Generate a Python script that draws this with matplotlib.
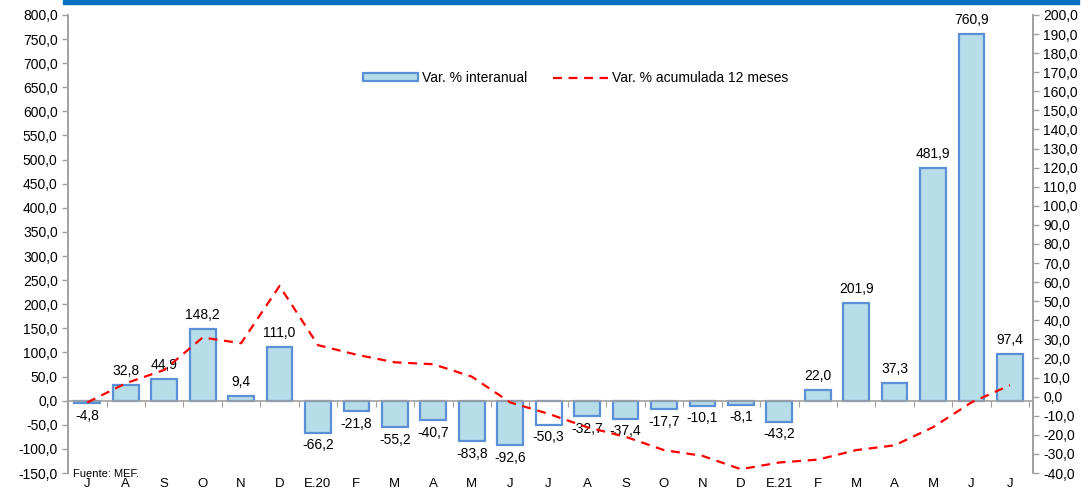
import matplotlib.pyplot as plt
import numpy as np
from matplotlib.ticker import FuncFormatter
from matplotlib.patches import Rectangle, Patch
from matplotlib.lines import Line2D
import matplotlib.transforms as mtrans

plt.rcParams['font.family'] = ['Liberation Sans', 'DejaVu Sans']

months = ["J", "A", "S", "O", "N", "D", "E.20", "F", "M", "A", "M", "J",
          "J", "A", "S", "O", "N", "D", "E.21", "F", "M", "A", "M", "J", "J"]
interanual = [-4.8, 32.8, 44.9, 148.2, 9.4, 111.0, -66.2, -21.8, -55.2, -40.7,
              -83.8, -92.6, -50.3, -32.7, -37.4, -17.7, -10.1, -8.1, -43.2,
              22.0, 201.9, 37.3, 481.9, 760.9, 97.4]
acumulada = [-3, 7, 14, 31, 28, 58, 27, 22, 18, 17, 10.5, -3, -9, -16, -21,
             -28, -31, -38, -34.5, -33, -28, -25.5, -16, -3, 6]

def fmt(v, pos=None):
    return f"{v:.1f}".replace(".", ",")

fig = plt.figure(figsize=(10.81, 4.92), dpi=100)
ax = fig.add_axes([0.063, 0.0386, 0.8926, 0.931])
ax2 = ax.twinx()

x = np.arange(len(months))
face = ["#B7DDE8"] * len(months)
face[12] = "white"
ax.bar(x, interanual, width=0.67, color=face, edgecolor="#5B8FD6", linewidth=1.6, zorder=2)

for xi, v in zip(x, interanual):
    if v >= 0:
        ax.annotate(fmt(v), (xi, v), xytext=(0, 5), textcoords="offset points",
                    ha="center", va="bottom", fontsize=10)
    else:
        ax.annotate(fmt(v), (xi, v), xytext=(0, -4), textcoords="offset points",
                    ha="center", va="top", fontsize=10)

ax.set_xlim(-0.47, 24.6)
ax.set_ylim(-150, 800)
ax.set_yticks(np.arange(-150, 801, 50))
ax.yaxis.set_major_formatter(FuncFormatter(fmt))

ax2.plot(x, acumulada, color="#FF0000", linestyle=(0, (4, 3)), linewidth=1.6, zorder=3)
ax2.set_ylim(-40, 200)
ax2.set_yticks(np.arange(-40, 201, 10))
ax2.yaxis.set_major_formatter(FuncFormatter(fmt))

for a in (ax, ax2):
    a.tick_params(axis="y", labelsize=10, color="#A0A0A0", length=4, width=1)
    a.spines["top"].set_visible(False)
    for s in ("left", "right"):
        a.spines[s].set_color("#A0A0A0")
        a.spines[s].set_linewidth(1.2)
ax2.spines["bottom"].set_visible(False)
ax.spines["bottom"].set_position(("data", 0))
ax.spines["bottom"].set_color("#A0A0A0")
ax.spines["bottom"].set_linewidth(1.2)
ax.set_xticks(np.arange(-0.5, 25, 1))
ax.set_xticklabels([])
ax.tick_params(axis="x", color="#A0A0A0", length=4, direction="out")

trans = mtrans.blended_transform_factory(ax.transData, ax.transAxes)
for xi, m in zip(x, months):
    ax.text(xi, -0.024, m, transform=trans, ha="center", va="center", fontsize=9.5)

ax.text(0.005, -0.003, "Fuente: MEF.", transform=ax.transAxes, fontsize=8,
        ha="left", va="center")

handles = [Patch(facecolor="#B7DDE8", edgecolor="#5B8FD6", linewidth=1.6),
           Line2D([0], [0], color="#FF0000", linestyle=(0, (4, 3)), linewidth=1.6)]
ax.legend(handles, ["Var. % interanual", "Var. % acumulada 12 meses"], ncol=2,
          loc="center", bbox_to_anchor=(0.526, 0.862), frameon=False, fontsize=10,
          handlelength=4.0, handleheight=0.5, columnspacing=1.8, handletextpad=0.3)

fig.patches.append(Rectangle((0.058, 0.992), 0.94, 0.008, transform=fig.transFigure,
                             color="#0070C0", zorder=5))

fig.savefig("out.png", dpi=100)
